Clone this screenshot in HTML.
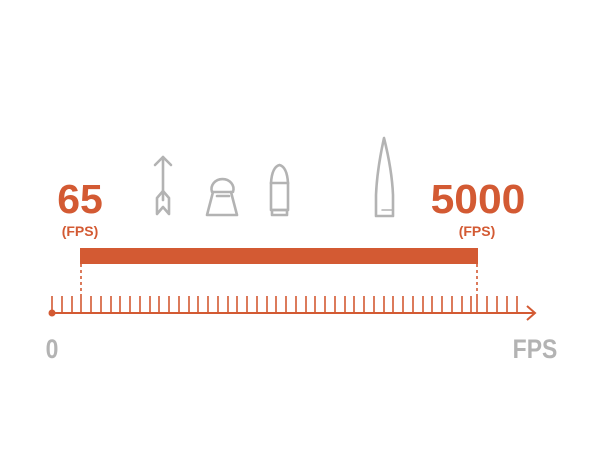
<!DOCTYPE html>
<html><head><style>
html,body{margin:0;padding:0;background:#fff;}
svg{display:block}
text{font-family:"Liberation Sans",sans-serif;font-weight:bold}
</style></head><body>
<svg width="600" height="464" viewBox="0 0 600 464" xmlns="http://www.w3.org/2000/svg">
<g fill="none" stroke="#b3b3b3" stroke-width="2.6" stroke-linejoin="round" stroke-linecap="round">
  <!-- arrow -->
  <line x1="163" y1="157" x2="163" y2="200"/>
  <polyline points="155,165 163,157 171,165"/>
  <path d="M157,198 L163,191 L169,198 L169,214 L163,207 L157,214 Z"/>
  <!-- pellet -->
  <path d="M212,192 A11,10 0 1 1 233,192 Z"/>
  <path d="M213,192 L207,215 L237,215 L231,192"/>
  <line x1="217" y1="196" x2="229" y2="196"/>
  <!-- pistol bullet -->
  <path d="M271,183 Q272,167 279.5,165 Q287,167 288,183 L288,210 L271,210 Z"/>
  <line x1="271" y1="183" x2="288" y2="183"/>
  <rect x="272" y="210" width="15" height="5"/>
  <!-- rifle bullet -->
  <path d="M384,138 Q377,170 376,195 L376,216 L393,216 L393,195 Q392,170 384,138 Z"/>
  <line x1="382" y1="210" x2="393" y2="210" stroke-width="1.5"/>
</g>
<g fill="#d35a33">
  <text x="80" y="213" font-size="41" text-anchor="middle">65</text>
  <text x="80" y="236" font-size="14" text-anchor="middle">(FPS)</text>
  <text x="478" y="213" font-size="41" text-anchor="middle" transform="translate(478 0) scale(1.04 1) translate(-478 0)">5000</text>
  <text x="477" y="236" font-size="14" text-anchor="middle">(FPS)</text>
  <rect x="80" y="248" width="398" height="16"/>
  <circle cx="52" cy="313" r="3.5"/>
</g>
<g stroke="#d35a33" stroke-width="1.6" fill="none">
  <line x1="81" y1="264" x2="81" y2="296" stroke-dasharray="3,3"/>
  <line x1="477" y1="264" x2="477" y2="296" stroke-dasharray="3,3"/>
  <line x1="52" y1="313" x2="535" y2="313" stroke-width="2"/>
  <polyline points="527,306 535,313 527,320" stroke-width="2"/>
  <path d="M52,296V313M62,296V313M72,296V313M81,296V313M91,296V313M101,296V313M111,296V313M120,296V313M130,296V313M140,296V313M150,296V313M159,296V313M169,296V313M179,296V313M189,296V313M198,296V313M208,296V313M218,296V313M228,296V313M237,296V313M247,296V313M257,296V313M267,296V313M276,296V313M286,296V313M296,296V313M306,296V313M315,296V313M325,296V313M335,296V313M345,296V313M354,296V313M364,296V313M374,296V313M384,296V313M393,296V313M403,296V313M413,296V313M423,296V313M432,296V313M442,296V313M452,296V313M462,296V313M471,296V313M477,296V313M487,296V313M497,296V313M507,296V313M517,296V313"/>
</g>
<g fill="#b3b3b3">
  <text x="52" y="358" font-size="27" text-anchor="middle" transform="translate(52 0) scale(0.85 1) translate(-52 0)">0</text>
  <text x="535" y="358" font-size="27" text-anchor="middle" transform="translate(535 0) scale(0.85 1) translate(-535 0)">FPS</text>
</g>
</svg>
</body></html>
